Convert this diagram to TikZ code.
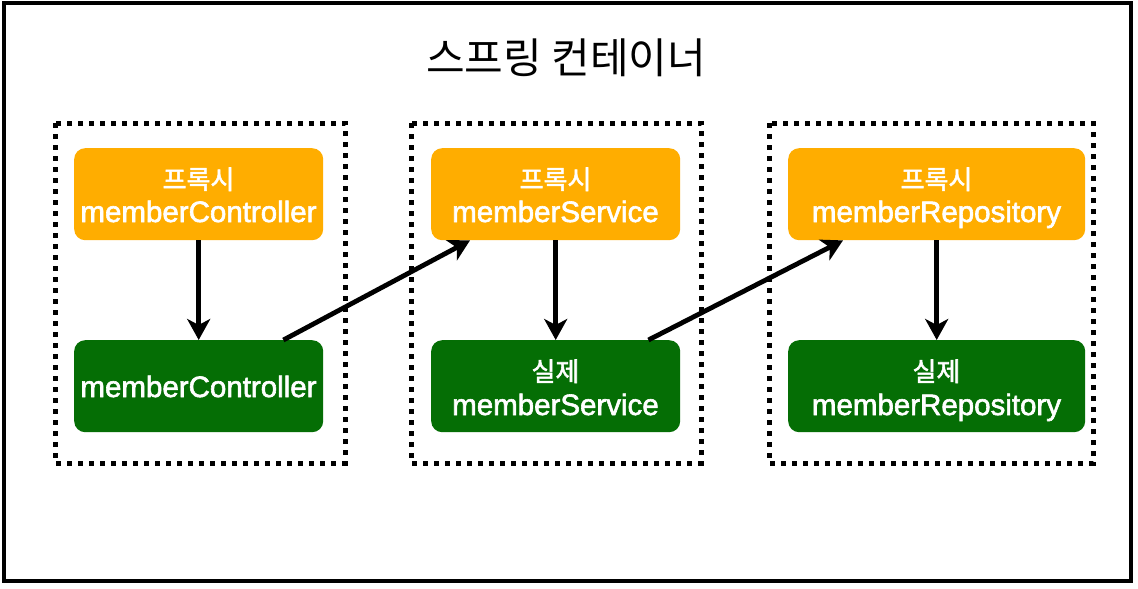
\documentclass[tikz,border=0pt]{standalone}
\usepackage{fontspec}
\setmainfont{Liberation Sans}
\newfontfamily\enfont[FakeBold=2]{Liberation Sans}
\newfontfamily\krfont{Noto Sans CJK KR}
\newfontfamily\krboldfont[FakeBold=2]{Noto Sans CJK KR}
\usetikzlibrary{arrows.meta,calc}
\definecolor{proxyorange}{RGB}{255,173,0}
\definecolor{realgreen}{RGB}{5,110,5}
\begin{document}
\begin{tikzpicture}[x=1pt,y=-1pt,
  beanbox/.style={draw=none, rounded corners=11pt, inner sep=0pt, anchor=north west, minimum height=92pt},
  proxybox/.style={beanbox, fill=proxyorange},
  realbox/.style={beanbox, fill=realgreen},
  group/.style={line width=5pt, dash pattern=on 5pt off 6pt},
  conn/.style={line width=4.8pt, -{Stealth[length=21pt,width=23pt,inset=6pt]}},
  krlbl/.style={anchor=base, inner sep=0pt, text=white, font=\krboldfont\fontsize{26}{30}\selectfont},
  enlbl/.style={anchor=base, inner sep=0pt, text=white, font=\enfont\fontsize{29.5}{36}\selectfont},
]
\useasboundingbox (0,0) rectangle (1138,589);
\fill[white] (0,0) rectangle (1138,589);
\draw[line width=4.5pt] (4,3) rectangle (1131,581);
\node[anchor=base, inner sep=0pt, font=\krfont\fontsize{42}{48}\selectfont] (title) at (566,73) {스프링 컨테이너};

% groups
\draw[group] (55,123) rectangle (345,463);
\draw[group] (411,123) rectangle (701,463);
\draw[group] (769,123) rectangle (1093,463);

% boxes
\node[proxybox, minimum width=249pt] (p1) at (74,148) {};
\node[proxybox, minimum width=249pt] (p2) at (431,148) {};
\node[proxybox, minimum width=297pt] (p3) at (788,148) {};
\node[realbox, minimum width=249pt] (r1) at (74,340) {};
\node[realbox, minimum width=249pt] (r2) at (431,340) {};
\node[realbox, minimum width=297pt] (r3) at (788,340) {};

% labels
\node[krlbl] (p1k) at (198.5,189) {프록시};
\node[enlbl] (p1e) at (198.5,222) {memberController};
\node[krlbl] (p2k) at (555.5,189) {프록시};
\node[enlbl] (p2e) at (555.5,222) {memberService};
\node[krlbl] (p3k) at (936.5,189) {프록시};
\node[enlbl] (p3e) at (936.5,222) {memberRepository};
\node[enlbl] (r1e) at (198.5,397) {memberController};
\node[krlbl] (r2k) at (555.5,381) {실제};
\node[enlbl] (r2e) at (555.5,415) {memberService};
\node[krlbl] (r3k) at (936.5,381) {실제};
\node[enlbl] (r3e) at (936.5,415) {memberRepository};

% connectors
\draw[conn] (p1.south) -- (r1.north);
\draw[conn] (p2.south) -- (r2.north);
\draw[conn] (p3.south) -- (r3.north);
\draw[conn] ($(r1.north east)+(-40,0)$) -- ($(p2.south west)+(39,0)$);
\draw[conn] ($(r2.north east)+(-32,0)$) -- ($(p3.south west)+(55,0)$);
\end{tikzpicture}
\end{document}
